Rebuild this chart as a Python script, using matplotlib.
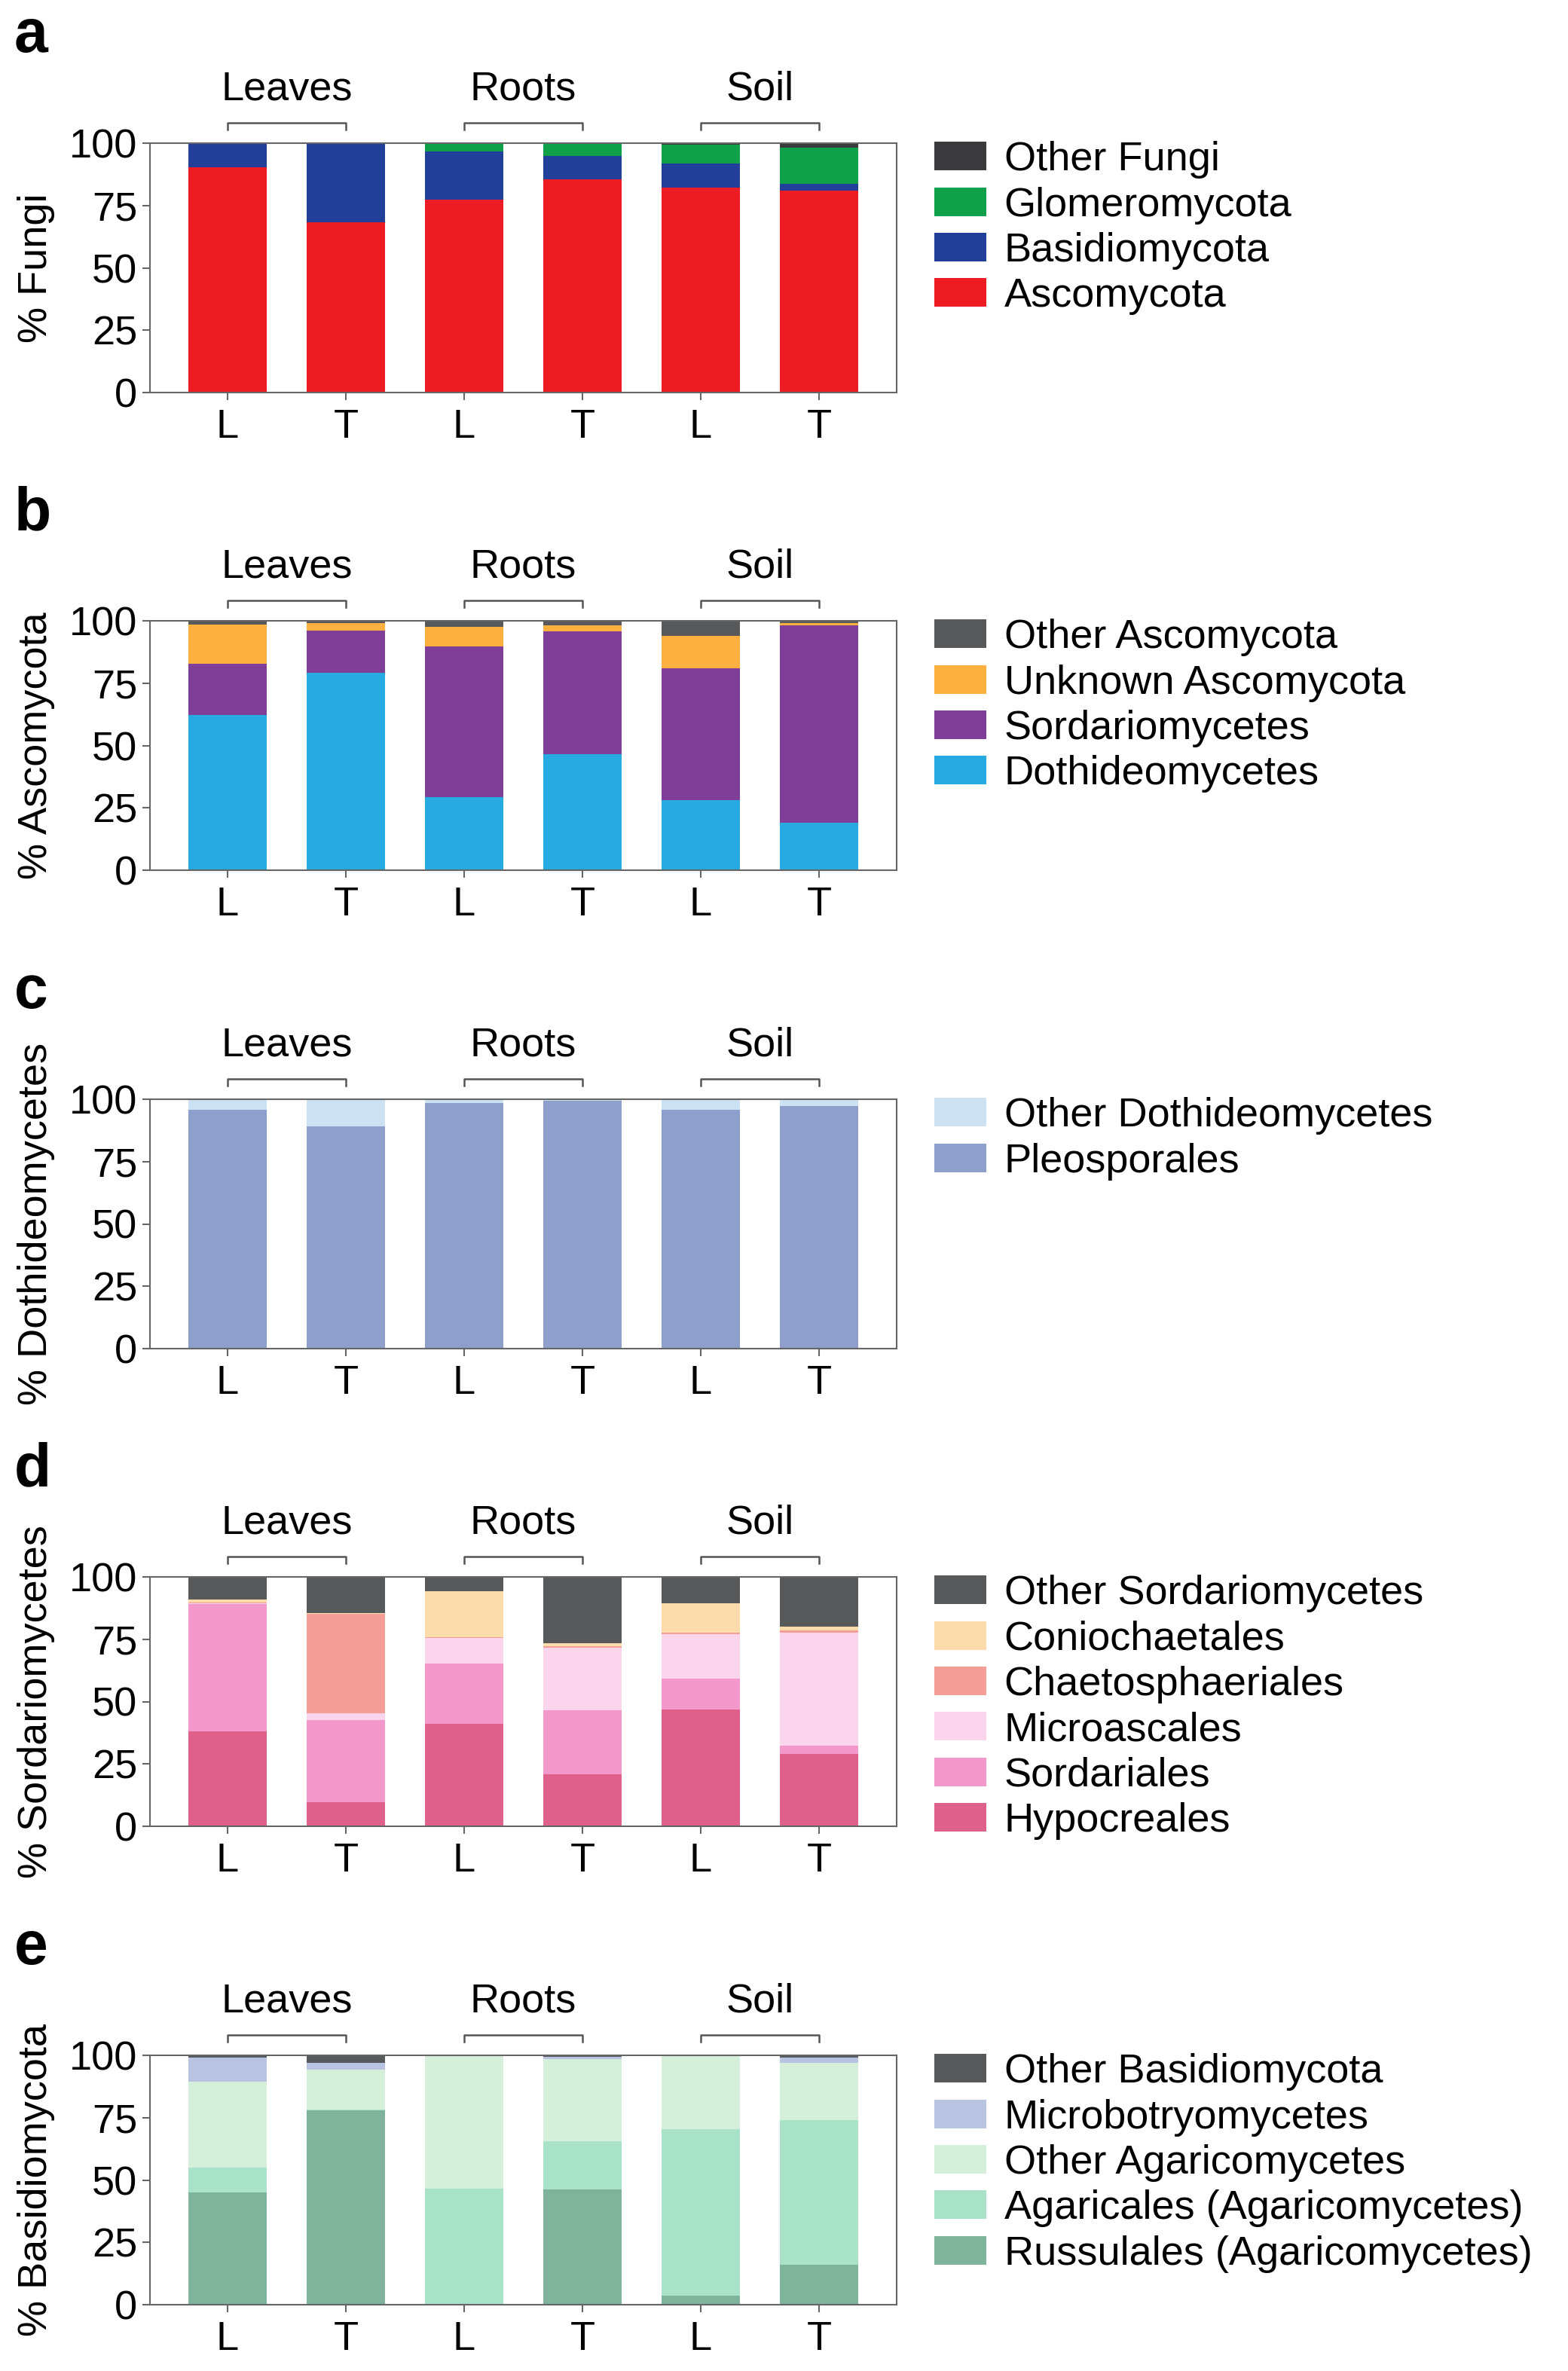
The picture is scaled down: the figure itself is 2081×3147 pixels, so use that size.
import numpy as np
import matplotlib
matplotlib.use("Agg")
import matplotlib.pyplot as plt
from matplotlib.patches import Patch

plt.rcParams['font.family'] = ['Liberation Sans', 'DejaVu Sans']

#samples: L / T for each compartment
xlabels = ["L", "T", "L", "T", "L", "T"]
groups = ["Leaves", "Roots", "Soil"]

#panel a - % Fungi
a_names = ["Ascomycota", "Basidiomycota", "Glomeromycota", "Other Fungi"]
a_asco = [90.4, 68.2, 77.2, 85.5, 82.1, 80.9]
a_basidio = [9.6, 31.8, 19.4, 9.3, 9.8, 2.8]
a_glomero = [0, 0, 3.2, 5.0, 7.5, 14.6]
a_other = [0, 0, 0.2, 0.2, 0.6, 1.7]
a_colors = ["#ED1C24", "#22409A", "#0FA14A", "#3B3B3D"]

#panel b - % Ascomycota
b_names = ["Dothideomycetes", "Sordariomycetes", "Unknown Ascomycota", "Other Ascomycota"]
b_dothi = [62.3, 79.1, 29.4, 46.5, 28.2, 19.0]
b_sordario = [20.4, 17.1, 60.2, 49.3, 52.7, 79.2]
b_unknown = [15.8, 2.9, 8.0, 2.5, 13.2, 0.9]
b_other = [1.5, 0.9, 2.4, 1.7, 5.9, 0.9]
b_colors = ["#27AAE1", "#7F3F98", "#FBB040", "#58595B"]

#panel c - % Dothideomycetes
c_names = ["Pleosporales", "Other Dothideomycetes"]
c_pleo = [95.7, 89.1, 98.6, 99.5, 95.7, 97.2]
c_other = [4.3, 10.9, 1.4, 0.5, 4.3, 2.8]
c_colors = ["#8E9FCB", "#CCE2F2"]

#panel d - % Sordariomycetes
d_names = ["Hypocreales", "Sordariales", "Microascales", "Chaetosphaeriales",
           "Coniochaetales", "Other Sordariomycetes"]
d_hypo = [38.2, 9.6, 41.1, 20.9, 46.7, 29.0]
d_sord = [51.0, 33.0, 24.3, 25.7, 12.4, 3.2]
d_micro = [0.3, 2.6, 10.1, 25.0, 18.0, 45.4]
d_chaeto = [0.3, 40.0, 0.3, 0.5, 0.4, 0.8]
d_conio = [1.0, 0.4, 18.6, 1.4, 12.0, 1.6]
d_other = [9.2, 14.4, 5.6, 26.5, 10.5, 20.0]
d_colors = ["#E0608C", "#F497CB", "#FAD5EB", "#F49E98", "#FDDCAC", "#58595B"]

#panel e - % Basidiomycota
e_names = ["Russulales (Agaricomycetes)", "Agaricales (Agaricomycetes)",
           "Other Agaricomycetes", "Microbotryomycetes", "Other Basidiomycota"]
e_russ = [45.0, 77.8, 0, 46.2, 3.7, 16.1]
e_agar = [10.0, 0.4, 46.5, 19.4, 66.6, 57.9]
e_otheragar = [34.4, 16.0, 53.3, 33.0, 29.5, 23.1]
e_microbot = [9.8, 2.7, 0, 0.8, 0, 1.9]
e_other = [0.8, 3.1, 0.2, 0.6, 0.2, 1.0]
e_colors = ["#80B39B", "#A8E2C8", "#D6EFDA", "#B8C3E2", "#58595B"]

panels = [
    ("a", "% Fungi", a_names, [a_asco, a_basidio, a_glomero, a_other], a_colors),
    ("b", "% Ascomycota", b_names, [b_dothi, b_sordario, b_unknown, b_other], b_colors),
    ("c", "% Dothideomycetes", c_names, [c_pleo, c_other], c_colors),
    ("d", "% Sordariomycetes", d_names,
     [d_hypo, d_sord, d_micro, d_chaeto, d_conio, d_other], d_colors),
    ("e", "% Basidiomycota", e_names,
     [e_russ, e_agar, e_otheragar, e_microbot, e_other], e_colors),
]

W, H = 2081, 3147
fig = plt.figure(figsize=(W / 100, H / 100), dpi=100)

fs = 39
spine_col = "#666666"
ax_left, ax_right = 199, 1190
ax_h = 331
tops = [190, 824, 1459, 2093, 2728]

x = np.arange(len(xlabels))
for (letter, ylab, names, series, colors), top in zip(panels, tops):
    ax = fig.add_axes([ax_left / W, 1 - (top + ax_h) / H,
                       (ax_right - ax_left) / W, ax_h / H])
    bottom = np.zeros(len(x))
    for vals, col in zip(series, colors):
        ax.bar(x, vals, width=0.66, bottom=bottom, color=col, linewidth=0)
        bottom += np.array(vals)

    ax.set_xlim(-0.656, 5.656)
    ax.set_ylim(0, 100)
    ax.set_yticks([0, 25, 50, 75, 100])
    ax.set_xticks(x)
    ax.set_xticklabels(xlabels)
    ax.tick_params(axis="both", labelsize=fs, length=7.2, width=1.5,
                   color=spine_col, direction="out")
    ax.tick_params(axis="x", pad=8)
    ax.tick_params(axis="y", pad=5)
    for s in ax.spines.values():
        s.set_color(spine_col)
        s.set_linewidth(1.5)

    #brackets + group names above the bars
    trans = ax.get_xaxis_transform()
    for g, name in enumerate(groups):
        x0, x1 = 2 * g, 2 * g + 1
        ax.plot([x0, x0, x1, x1], [1.054, 1.082, 1.082, 1.054], color="#555555",
                lw=1.8, transform=trans, clip_on=False)
        ax.text((x0 + x1) / 2, 1.175, name, ha="center", va="baseline",
                fontsize=fs, transform=trans)

    ax.text(-0.152, 0.5, ylab, rotation=90, ha="center", va="center",
            fontsize=fs, transform=ax.transAxes)
    ax.text(-0.182, 1.366, letter, fontsize=58, fontweight="bold",
            ha="left", va="baseline", transform=ax.transAxes)

    #legend, last series on top
    handles = [Patch(facecolor=c, edgecolor="none", label=n)
               for n, c in zip(names, colors)][::-1]
    ax.legend(handles=handles, loc="upper left", bbox_to_anchor=(1.0505, 1.008),
              frameon=False, fontsize=fs, handlelength=1.28, handleheight=0.7,
              handletextpad=0.43, labelspacing=0.19, borderpad=0, borderaxespad=0)

plt.savefig("out.png", dpi=100)
